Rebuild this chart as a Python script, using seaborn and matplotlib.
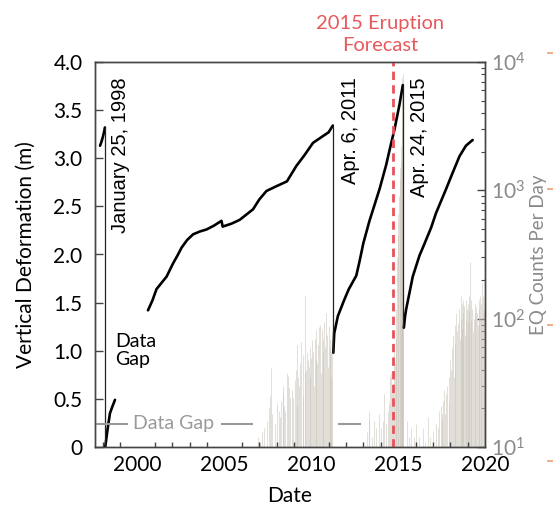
import numpy as np
import pandas as pd
import matplotlib
matplotlib.use("Agg")
import matplotlib.pyplot as plt
import matplotlib.transforms as mtransforms
from matplotlib.ticker import MultipleLocator, LogLocator
import seaborn as sns

# ---------------- data ----------------
seg0_year = [1997.84, 1997.92, 1998.00, 1998.08, 1998.12]
seg0_def = [3.13, 3.17, 3.22, 3.28, 3.32]

seg1_year = [1998.14, 1998.27, 1998.41, 1998.55, 1998.70]
seg1_def = [0.00, 0.18, 0.35, 0.42, 0.49]

seg2_year = [2000.60, 2000.85, 2001.09, 2001.40, 2001.67, 2002.05, 2002.30, 2002.53,
             2002.85, 2003.20, 2003.60, 2003.97, 2004.40, 2004.83, 2004.90, 2005.40,
             2005.88, 2006.30, 2006.65, 2007.00, 2007.42, 2008.00, 2008.60, 2009.14,
             2009.60, 2010.10, 2010.67, 2011.00, 2011.24]
seg2_def = [1.42, 1.52, 1.64, 1.71, 1.77, 1.91, 1.99, 2.07,
            2.15, 2.21, 2.24, 2.26, 2.30, 2.35, 2.29, 2.32,
            2.36, 2.42, 2.47, 2.57, 2.66, 2.71, 2.76, 2.92,
            3.03, 3.16, 3.23, 3.27, 3.34]

seg3_year = [2011.27, 2011.32, 2011.53, 2011.90, 2012.16, 2012.59, 2012.78, 2013.00,
             2013.35, 2013.93, 2014.31, 2014.50, 2014.79, 2015.08, 2015.27]
seg3_def = [0.98, 1.18, 1.36, 1.53, 1.64, 1.78, 1.93, 2.12,
            2.35, 2.68, 2.93, 3.08, 3.30, 3.56, 3.76]

seg4_year = [2015.33, 2015.40, 2015.46, 2015.65, 2015.84, 2016.23, 2016.42, 2016.90,
             2017.18, 2017.76, 2018.14, 2018.53, 2018.90, 2019.29]
seg4_def = [1.24, 1.36, 1.43, 1.60, 1.77, 1.99, 2.07, 2.28,
            2.43, 2.68, 2.85, 3.02, 3.13, 3.19]

erupt_year = [1998.12, 2011.26, 2015.30]
erupt_top = [3.32, 3.34, 3.76]
erupt_bottom = [0.00, 0.98, 1.24]
erupt_labels = ["January 25, 1998", "Apr. 6, 2011", "Apr. 24, 2015"]
erupt_label_x = [1999.04, 2012.28, 2016.23]

forecast_year = 2014.68

gap_start = [1997.55, 2004.79, 2011.51]
gap_end = [1999.45, 2006.63, 2012.84]
gap_level = 0.24

eq_year = [2006.94, 2007.05, 2007.30, 2007.55, 2007.70, 2007.75, 2007.90, 2008.05,
           2008.20, 2008.28, 2008.40, 2008.50, 2008.60, 2008.66, 2008.80, 2008.90,
           2009.05, 2009.15, 2009.20, 2009.30, 2009.43, 2009.50, 2009.62, 2009.70,
           2009.80, 2009.90, 2010.00, 2010.05, 2010.15, 2010.29, 2010.35, 2010.45,
           2010.55, 2010.60, 2010.70, 2010.87, 2010.95, 2011.05, 2011.12, 2011.20,
           2007.15, 2007.45, 2007.62, 2008.12, 2008.35, 2008.45, 2008.72, 2008.95,
           2009.10, 2009.25, 2009.37, 2009.55, 2009.66, 2009.75, 2009.85, 2009.95,
           2010.10, 2010.20, 2010.25, 2010.40, 2010.50, 2010.65, 2010.75, 2010.80,
           2010.92, 2011.00, 2011.10, 2011.16,
           2013.20, 2013.30, 2013.35, 2013.50, 2013.60, 2013.75, 2013.90, 2014.10,
           2014.20, 2014.30, 2014.45, 2014.55, 2014.60, 2014.70, 2014.80, 2014.90,
           2014.00, 2014.40, 2014.65, 2014.75, 2014.85,
           2014.95, 2015.02, 2015.08, 2015.14, 2015.20, 2015.25, 2015.29,
           2014.98, 2015.05, 2015.11, 2015.17, 2015.23, 2015.27,
           2015.50, 2015.60, 2015.75, 2015.90, 2016.05, 2016.20,
           2016.42, 2016.55, 2016.70, 2016.85, 2017.00, 2017.20, 2017.37, 2017.50,
           2017.60, 2017.70, 2017.76, 2017.90, 2018.05, 2018.10, 2018.20, 2018.34,
           2018.45, 2018.55, 2018.63, 2018.70, 2018.76, 2018.85, 2018.92, 2019.00,
           2019.07, 2019.15, 2019.22, 2019.30, 2019.40, 2019.50, 2019.60, 2019.68,
           2019.75, 2019.83, 2019.92,
           2017.30, 2017.45, 2017.55, 2017.65, 2017.82, 2017.95, 2018.00, 2018.15,
           2018.25, 2018.30, 2018.40, 2018.50, 2018.60, 2018.67, 2018.73, 2018.80,
           2018.88, 2018.96, 2019.04, 2019.10, 2019.18, 2019.26, 2019.35, 2019.45,
           2019.55, 2019.64, 2019.72, 2019.79, 2019.88, 2019.96]
eq_count = [12, 11, 14, 20, 41, 18, 15, 22,
            17, 23, 26, 19, 38, 36, 24, 28,
            33, 21, 62, 30, 66, 25, 149, 40,
            48, 35, 49, 68, 30, 82, 45, 86,
            38, 82, 55, 110, 42, 60, 35, 82,
            13, 16, 25, 19, 30, 21, 29, 24,
            40, 35, 45, 52, 38, 55, 42, 60,
            55, 70, 48, 62, 90, 70, 95, 60,
            75, 88, 70, 55,
            13, 16, 19, 12, 16, 14, 18, 16,
            26, 15, 22, 35, 38, 28, 45, 120,
            14, 19, 30, 55, 70,
            300, 650, 1200, 1700, 3000, 7500, 5000,
            450, 900, 1500, 2200, 5500, 8000,
            16, 12, 14, 12, 15, 12,
            14, 11, 17, 12, 13, 15, 19, 16,
            23, 18, 26, 22, 40, 60, 35, 110,
            92, 70, 149, 85, 140, 75, 140, 95,
            149, 277, 98, 80, 110, 124, 90, 140,
            100, 190, 120,
            14, 21, 18, 28, 30, 35, 48, 75,
            65, 90, 80, 120, 100, 130, 110, 125,
            100, 120, 130, 115, 140, 120, 100, 130,
            110, 120, 150, 130, 150, 110]

x_major = [2000, 2005, 2010, 2015, 2020]
y_ticks = [0, 0.5, 1.0, 1.5, 2.0, 2.5, 3.0, 3.5, 4.0]
y_ticklabels = ["0", "0.5", "1.0", "1.5", "2.0", "2.5", "3.0", "3.5", "4.0"]

# ---------------- style ----------------
sns.set_theme(style="white")
plt.rcParams["font.family"] = ["Lato", "DejaVu Sans"]
plt.rcParams["text.color"] = "black"
plt.rcParams["axes.labelcolor"] = "black"
plt.rcParams["xtick.color"] = "black"
plt.rcParams["ytick.color"] = "black"

fig = plt.figure(figsize=(5.53, 5.11), dpi=100)
ax = fig.add_axes([95 / 553, 64 / 511, 390 / 553, 385 / 511])
ax2 = ax.twinx()

# EQ count bars (right log axis)
ax2.set_yscale("log")
ax2.set_ylim(10, 1e4)
ax2.vlines(eq_year, 10, eq_count, color="#c8c2b7", lw=0.75, alpha=0.5)

ax.set_zorder(ax2.get_zorder() + 1)
ax.patch.set_visible(False)

# deformation curve
segs = [(seg0_year, seg0_def), (seg1_year, seg1_def), (seg2_year, seg2_def),
        (seg3_year, seg3_def), (seg4_year, seg4_def)]
df = pd.concat([pd.DataFrame({"year": yr, "def": dv, "seg": i})
                for i, (yr, dv) in enumerate(segs)], ignore_index=True)
sns.lineplot(data=df, x="year", y="def", units="seg", estimator=None, sort=False,
             color="black", lw=1.9, ax=ax, legend=False)

ax.vlines(erupt_year, erupt_bottom, erupt_top, color="#222222", lw=0.9)

for xl, lab in zip(erupt_label_x, erupt_labels):
    ax.text(xl, 3.84, lab, rotation=90, ha="center", va="top", fontsize=14.5,
            family=["Liberation Sans", "DejaVu Sans"], color="black")

ax.axvline(forecast_year, color="#e8525a", lw=2.0, ls=(0, (3, 1.9)))
trans = mtransforms.blended_transform_factory(ax.transData, ax.transAxes)
ax.text(2013.95, 1.022, "2015 Eruption\nForecast", transform=trans, ha="center",
        va="bottom", color="#e8595c", fontsize=14.5, linespacing=1.3)

# data gap marks
ax.hlines([gap_level] * len(gap_start), gap_start, gap_end, color="#9a9a9a", lw=1.5)
ax.text(2002.1, gap_level, "Data Gap", ha="center", va="center", color="#9a9a9a",
        fontsize=14)
ax.text(1998.7, 1.0, "Data\nGap", ha="left", va="center", color="black",
        fontsize=14, linespacing=1.05)

# axes
ax.set_xlim(1997.55, 2020.0)
ax.set_ylim(0, 4)
ax.set_xticks(x_major)
ax.xaxis.set_minor_locator(MultipleLocator(1))
ax.set_yticks(y_ticks)
ax.set_yticklabels(y_ticklabels)
ax.tick_params(axis="both", which="major", direction="in", length=6, width=1,
               color="#444444", labelsize=15, right=False, top=False)
ax.tick_params(axis="x", which="minor", direction="in", length=3.5, width=1,
               color="#444444", bottom=True, top=False)
ax.tick_params(axis="y", pad=9)
ax.tick_params(axis="x", pad=6)
ax.set_xlabel("Date", fontsize=15, labelpad=8)
ax.set_ylabel("Vertical Deformation (m)", fontsize=15)
ax.yaxis.set_label_coords(-(95 - 36) / 390, 0.5)

ax2.yaxis.set_major_locator(LogLocator(base=10))
ax2.yaxis.set_minor_locator(LogLocator(base=10, subs=np.arange(2, 10)))
ax2.tick_params(axis="y", which="major", direction="in", length=6, width=1,
                color="#444444", labelsize=15, labelcolor="#8a8a8a", pad=4)
ax2.tick_params(axis="y", which="minor", direction="in", length=3, width=0.8,
                color="#444444")
ax2.set_ylabel("EQ Counts Per Day", fontsize=13.5, color="#8a8a8a")
ax2.yaxis.set_label_coords(1 + (530 - 485) / 390, 0.5)

for a in (ax, ax2):
    for s in a.spines.values():
        s.set_color("#444444")
        s.set_linewidth(1)

# cut-off orange ticks at the far right edge
ax3 = fig.add_axes([0.9995, 50 / 511, 0.0001, 408 / 511])
ax3.set_ylim(0, 3)
ax3.set_xticks([])
ax3.set_yticks([0, 1, 2, 3])
ax3.set_yticklabels([])
ax3.tick_params(axis="y", direction="out", length=4, width=1.2, color="#f0a070", left=True)
for s in ax3.spines.values():
    s.set_visible(False)
ax3.patch.set_visible(False)

fig.savefig("out.png", dpi=100)
